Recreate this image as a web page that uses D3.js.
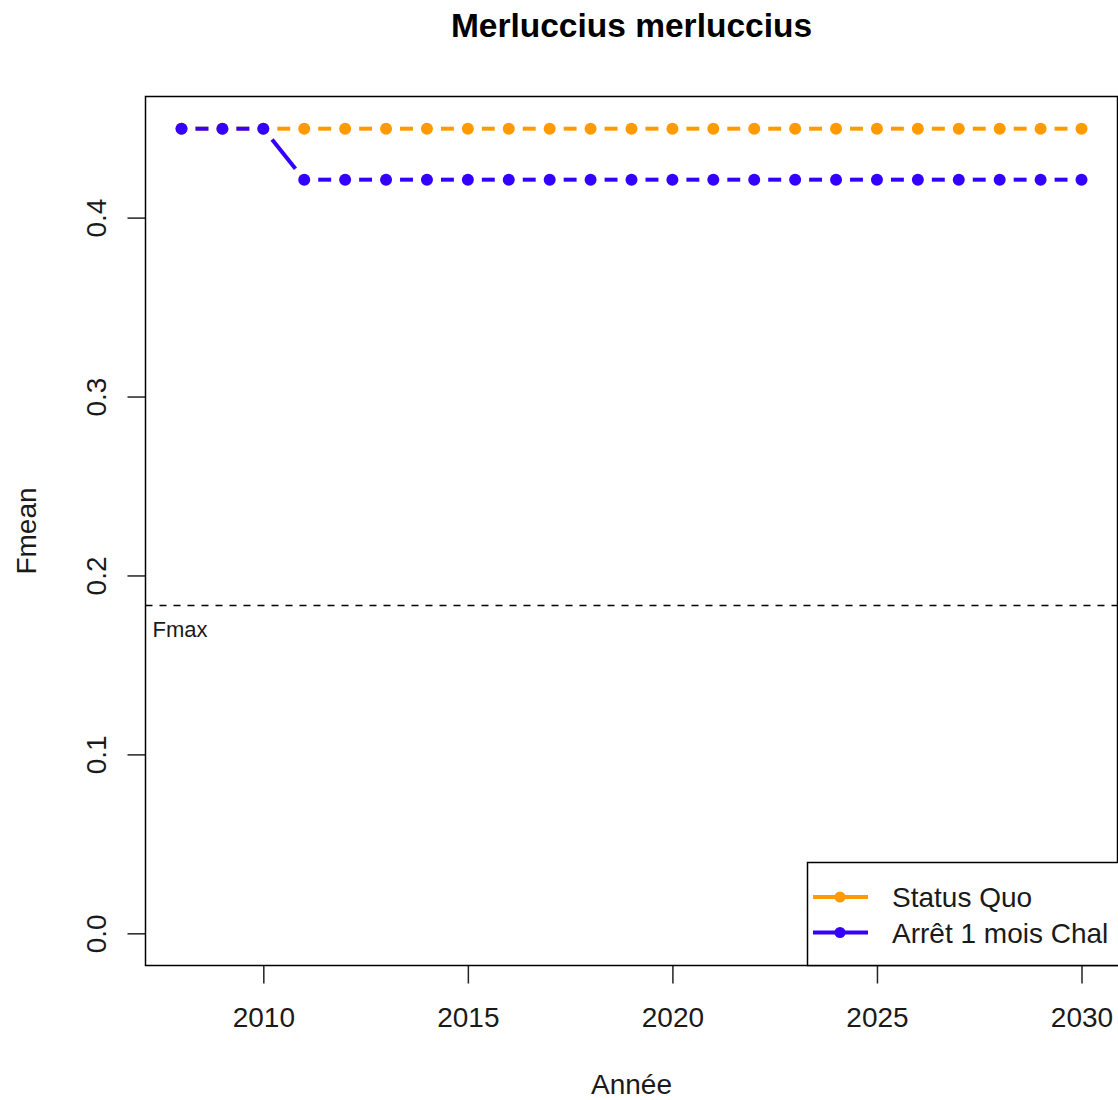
<!DOCTYPE html>
<html>
<head>
<meta charset="utf-8">
<script src="https://cdn.jsdelivr.net/npm/d3@7"></script>
<style>
  html, body { margin: 0; padding: 0; background: #fff; }
  svg { display: block; font-family: "Liberation Sans", Arial, sans-serif; }
</style>
</head>
<body>
<script>
const years = d3.range(2008, 2031);
const statusQuo = [0.4497,0.4497,0.4497,0.4497,0.4497,0.4497,0.4497,0.4497,0.4497,0.4497,0.4497,0.4497,0.4497,0.4497,0.4497,0.4497,0.4497,0.4497,0.4497,0.4497,0.4497,0.4497,0.4497];
const arret = [0.4497,0.4497,0.4497,0.4212,0.4212,0.4212,0.4212,0.4212,0.4212,0.4212,0.4212,0.4212,0.4212,0.4212,0.4212,0.4212,0.4212,0.4212,0.4212,0.4212,0.4212,0.4212,0.4212];
const fmax = 0.1832;
const xTicks = [2010, 2015, 2020, 2025, 2030];
const yTicks = [0.0, 0.1, 0.2, 0.3, 0.4];
const seriesNames = ["Status Quo", "Arrêt 1 mois Chal"];
const seriesColors = ["#FF9A00", "#3300FF"];

const W = 1118, H = 1100;
const plot = {left: 145.5, right: 1117.5, top: 96.5, bottom: 965.5};

const svg = d3.select("body").append("svg").attr("width", W).attr("height", H);

// R-style 4% axis extension
const xr = [2008, 2030], xe = (xr[1]-xr[0])*0.04;
const yr = [0, 0.4497], ye = (yr[1]-yr[0])*0.04;
const x = d3.scaleLinear().domain([xr[0]-xe, xr[1]+xe]).range([plot.left, plot.right]);
const y = d3.scaleLinear().domain([yr[0]-ye, yr[1]+ye]).range([plot.bottom, plot.top]);

const textColor = "#1a1a1a";
const fs = 28;

// Title
svg.append("text").attr("x", (plot.left+plot.right)/2).attr("y", 37)
  .attr("text-anchor", "middle").attr("font-weight", "bold").attr("font-size", 33.5)
  .attr("fill", "#000").text("Merluccius merluccius");

// X axis
const xAxis = svg.append("g").attr("transform", `translate(0,${plot.bottom})`)
  .call(d3.axisBottom(x).tickValues(xTicks).tickFormat(d3.format("d")).tickSize(18).tickPadding(24));
xAxis.select(".domain").remove();
xAxis.selectAll("line").attr("stroke", "#222").attr("stroke-width", 1.5);
xAxis.selectAll("text").attr("font-size", fs).attr("fill", textColor).attr("font-family", "Liberation Sans, Arial, sans-serif");

// Y axis
const yAxis = svg.append("g").attr("transform", `translate(${plot.left},0)`)
  .call(d3.axisLeft(y).tickValues(yTicks).tickFormat(d3.format(".1f")).tickSize(18));
yAxis.select(".domain").remove();
yAxis.selectAll("line").attr("stroke", "#222").attr("stroke-width", 1.5);
yAxis.selectAll("text")
  .attr("font-size", fs).attr("fill", textColor).attr("font-family", "Liberation Sans, Arial, sans-serif")
  .attr("text-anchor", "middle").attr("dy", null).attr("x", null)
  .attr("transform", "translate(-40,0) rotate(-90)");

// Axis titles
svg.append("text").attr("x", (plot.left+plot.right)/2).attr("y", 1094)
  .attr("text-anchor", "middle").attr("font-size", fs).attr("fill", textColor).text("Année");
svg.append("text").attr("transform", `translate(36,${(plot.top+plot.bottom)/2}) rotate(-90)`)
  .attr("text-anchor", "middle").attr("font-size", fs).attr("fill", textColor).text("Fmean");

// Fmax reference line
svg.append("line").attr("x1", plot.left).attr("x2", plot.right)
  .attr("y1", y(fmax)).attr("y2", y(fmax))
  .attr("stroke", "#000").attr("stroke-width", 1.5).attr("stroke-dasharray", "7,7");
svg.append("text").attr("x", plot.left + 7).attr("y", y(fmax) + 31)
  .attr("font-size", 22).attr("fill", textColor).text("Fmax");

// Series (type "b": points with gapped segments)
const gap = 14, r = 6;
function drawSeries(vals, color) {
  const pts = years.map((yr, i) => [x(yr), y(vals[i])]);
  const g = svg.append("g");
  for (let i = 0; i < pts.length - 1; i++) {
    const [x0, y0] = pts[i], [x1, y1] = pts[i+1];
    const dx = x1 - x0, dy = y1 - y0, len = Math.hypot(dx, dy);
    if (len <= 2*gap) continue;
    const ux = dx/len, uy = dy/len;
    g.append("line")
      .attr("x1", x0 + ux*gap).attr("y1", y0 + uy*gap)
      .attr("x2", x1 - ux*gap).attr("y2", y1 - uy*gap)
      .attr("stroke", color).attr("stroke-width", 4);
  }
  g.selectAll("circle").data(pts).join("circle")
    .attr("cx", d => d[0]).attr("cy", d => d[1]).attr("r", r).attr("fill", color);
}
drawSeries(statusQuo, seriesColors[0]);
drawSeries(arret, seriesColors[1]);

// Plot frame
svg.append("rect").attr("x", plot.left).attr("y", plot.top)
  .attr("width", plot.right - plot.left).attr("height", plot.bottom - plot.top)
  .attr("fill", "none").attr("stroke", "#000").attr("stroke-width", 1.5);

// Legend
const lg = svg.append("g");
lg.append("rect").attr("x", 807.5).attr("y", 862.5).attr("width", 320).attr("height", plot.bottom - 862.5)
  .attr("fill", "#fff").attr("stroke", "#000").attr("stroke-width", 1.5);
seriesNames.forEach((name, i) => {
  const ly = 897 + i*35.5;
  lg.append("line").attr("x1", 813).attr("x2", 868).attr("y1", ly).attr("y2", ly)
    .attr("stroke", seriesColors[i]).attr("stroke-width", 4);
  lg.append("circle").attr("cx", 840).attr("cy", ly).attr("r", 5.5).attr("fill", seriesColors[i]);
  lg.append("text").attr("x", 892).attr("y", ly + 10).attr("font-size", fs).attr("fill", textColor).text(name);
});
</script>
</body>
</html>
